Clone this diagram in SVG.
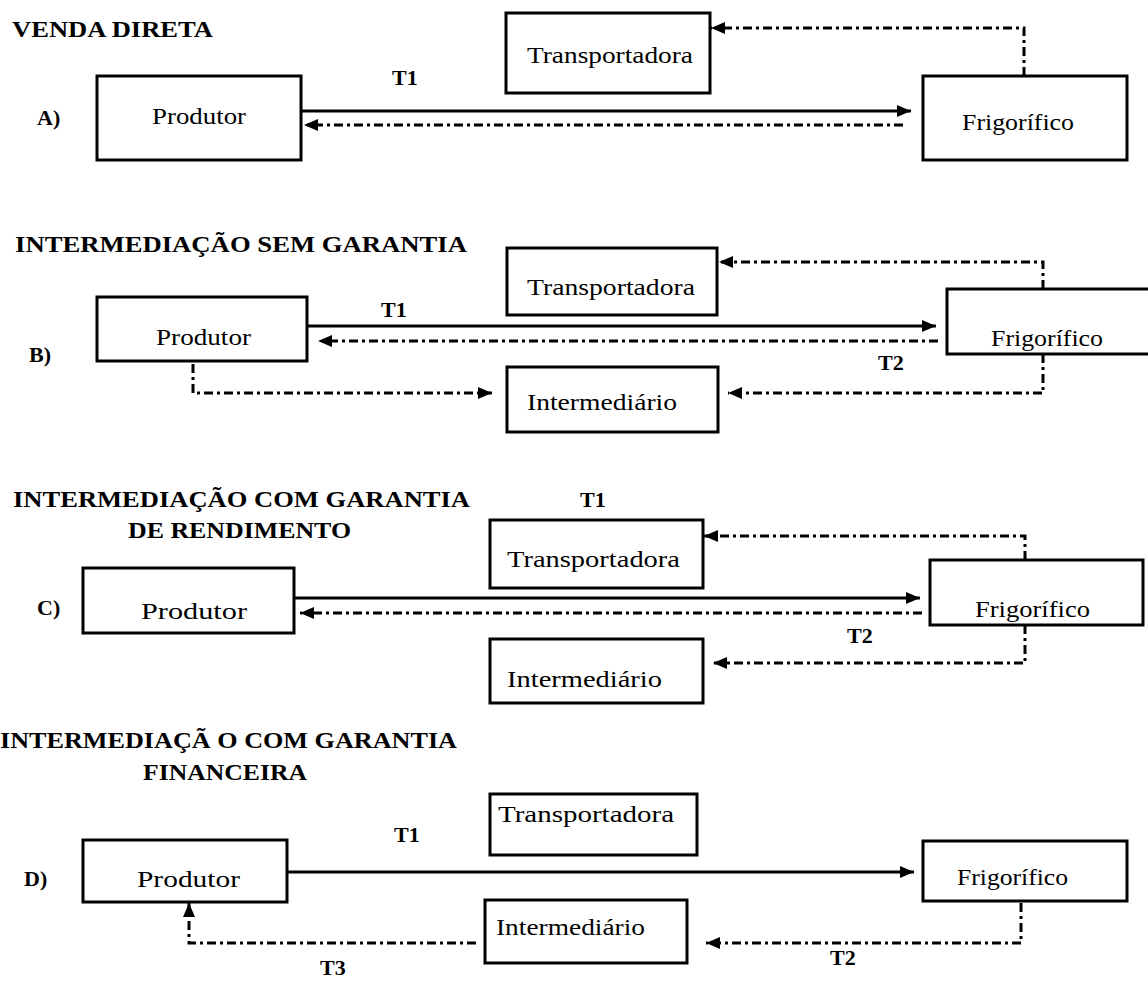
<svg xmlns="http://www.w3.org/2000/svg" width="1148" height="989" viewBox="0 0 1148 989">
<style>
.box{fill:#fff;stroke:#000;stroke-width:3}
.nt{font-family:"Liberation Serif","Times New Roman",serif;font-size:24px;fill:#000}
.tt{font-family:"Liberation Serif","Times New Roman",serif;font-size:24px;font-weight:bold;fill:#000}
.tl{font-family:"Liberation Serif","Times New Roman",serif;font-size:22px;font-weight:bold;fill:#000}
.solid{fill:none;stroke:#000;stroke-width:3;marker-end:url(#ah)}
.dd{fill:none;stroke:#000;stroke-width:3;stroke-dasharray:9 4 3 4;marker-end:url(#ah)}
</style>
<defs>
<marker id="ah" markerUnits="userSpaceOnUse" markerWidth="14" markerHeight="12" refX="14" refY="6" orient="auto">
<path d="M0,0 L14,6 L0,12 z" fill="#000"/>
</marker>
</defs>
<rect width="1148" height="989" fill="#fff"/>
<g id="titles">
<text class="tt" x="12" y="37" textLength="201" lengthAdjust="spacingAndGlyphs">VENDA DIRETA</text>
<text class="tt" x="15" y="252" textLength="452" lengthAdjust="spacingAndGlyphs">INTERMEDIAÇÃO SEM GARANTIA</text>
<text class="tt" x="13" y="507" textLength="457" lengthAdjust="spacingAndGlyphs">INTERMEDIAÇÃO COM GARANTIA</text>
<text class="tt" x="128" y="538" textLength="223" lengthAdjust="spacingAndGlyphs">DE RENDIMENTO</text>
<text class="tt" x="0" y="748" textLength="457" lengthAdjust="spacingAndGlyphs">INTERMEDIAÇÃ O COM GARANTIA</text>
<text class="tt" x="143" y="780" textLength="164" lengthAdjust="spacingAndGlyphs">FINANCEIRA</text>
<text class="tl" x="37" y="125">A)</text>
<text class="tl" x="29" y="362">B)</text>
<text class="tl" x="37" y="615">C)</text>
<text class="tl" x="24" y="886">D)</text>
</g>
<g id="connectors">
<path class="solid" d="M301,111 H911"/>
<path class="dd" d="M903,125 H304"/>
<path class="dd" d="M1024,76 V28 H711"/>
<path class="solid" d="M307,326 H936"/>
<path class="dd" d="M938,341 H318"/>
<path class="dd" d="M1043,289 V262 H719"/>
<path class="dd" d="M1043,354 V393 H728"/>
<path class="dd" d="M193,364 V393 H492"/>
<path class="solid" d="M294,598 H920"/>
<path class="dd" d="M922,613 H300"/>
<path class="dd" d="M1025,560 V536 H704"/>
<path class="dd" d="M1025,625 V663 H713"/>
<path class="solid" d="M287,872 H914"/>
<path class="dd" d="M1021,903 V943 H706"/>
<path class="dd" d="M476,943 H189 V903"/>
</g>
<g id="edge-labels">
<text class="tl" x="392" y="85">T1</text>
<text class="tl" x="381" y="317">T1</text>
<text class="tl" x="878" y="370">T2</text>
<text class="tl" x="580" y="507">T1</text>
<text class="tl" x="847" y="643">T2</text>
<text class="tl" x="394" y="842">T1</text>
<text class="tl" x="830" y="965">T2</text>
<text class="tl" x="320" y="975">T3</text>
</g>
<g id="a-produtor"><rect class="box" x="97" y="76" width="204" height="84"/><text class="nt" x="152" y="124" textLength="94" lengthAdjust="spacingAndGlyphs">Produtor</text></g>
<g id="a-transportadora"><rect class="box" x="506" y="13" width="204" height="80"/><text class="nt" x="527" y="63" textLength="166" lengthAdjust="spacingAndGlyphs">Transportadora</text></g>
<g id="a-frigorifico"><rect class="box" x="923" y="76" width="204" height="84"/><text class="nt" x="962" y="130" textLength="112" lengthAdjust="spacingAndGlyphs">Frigorífico</text></g>
<g id="b-transportadora"><rect class="box" x="507" y="248" width="210" height="67"/><text class="nt" x="527" y="295" textLength="168" lengthAdjust="spacingAndGlyphs">Transportadora</text></g>
<g id="b-produtor"><rect class="box" x="97" y="297" width="210" height="64"/><text class="nt" x="156" y="345" textLength="95" lengthAdjust="spacingAndGlyphs">Produtor</text></g>
<g id="b-frigorifico"><rect class="box" x="947" y="289" width="213" height="65"/><text class="nt" x="991" y="346" textLength="112" lengthAdjust="spacingAndGlyphs">Frigorífico</text></g>
<g id="b-intermediario"><rect class="box" x="507" y="367" width="211" height="65"/><text class="nt" x="527" y="410" textLength="150" lengthAdjust="spacingAndGlyphs">Intermediário</text></g>
<g id="c-transportadora"><rect class="box" x="490" y="520" width="213" height="68"/><text class="nt" x="507" y="567" textLength="173" lengthAdjust="spacingAndGlyphs">Transportadora</text></g>
<g id="c-produtor"><rect class="box" x="83" y="568" width="211" height="65"/><text class="nt" x="141" y="619" textLength="106" lengthAdjust="spacingAndGlyphs">Produtor</text></g>
<g id="c-frigorifico"><rect class="box" x="930" y="560" width="213" height="65"/><text class="nt" x="975" y="617" textLength="115" lengthAdjust="spacingAndGlyphs">Frigorífico</text></g>
<g id="c-intermediario"><rect class="box" x="490" y="639" width="213" height="64"/><text class="nt" x="507" y="687" textLength="155" lengthAdjust="spacingAndGlyphs">Intermediário</text></g>
<g id="d-transportadora"><rect class="box" x="490" y="794" width="207" height="61"/><text class="nt" x="498" y="822" textLength="176" lengthAdjust="spacingAndGlyphs">Transportadora</text></g>
<g id="d-produtor"><rect class="box" x="83" y="840" width="204" height="62"/><text class="nt" x="137" y="887" textLength="103" lengthAdjust="spacingAndGlyphs">Produtor</text></g>
<g id="d-frigorifico"><rect class="box" x="923" y="841" width="204" height="60"/><text class="nt" x="957" y="885" textLength="111" lengthAdjust="spacingAndGlyphs">Frigorífico</text></g>
<g id="d-intermediario"><rect class="box" x="485" y="900" width="202" height="63"/><text class="nt" x="496" y="935" textLength="149" lengthAdjust="spacingAndGlyphs">Intermediário</text></g>
</svg>
